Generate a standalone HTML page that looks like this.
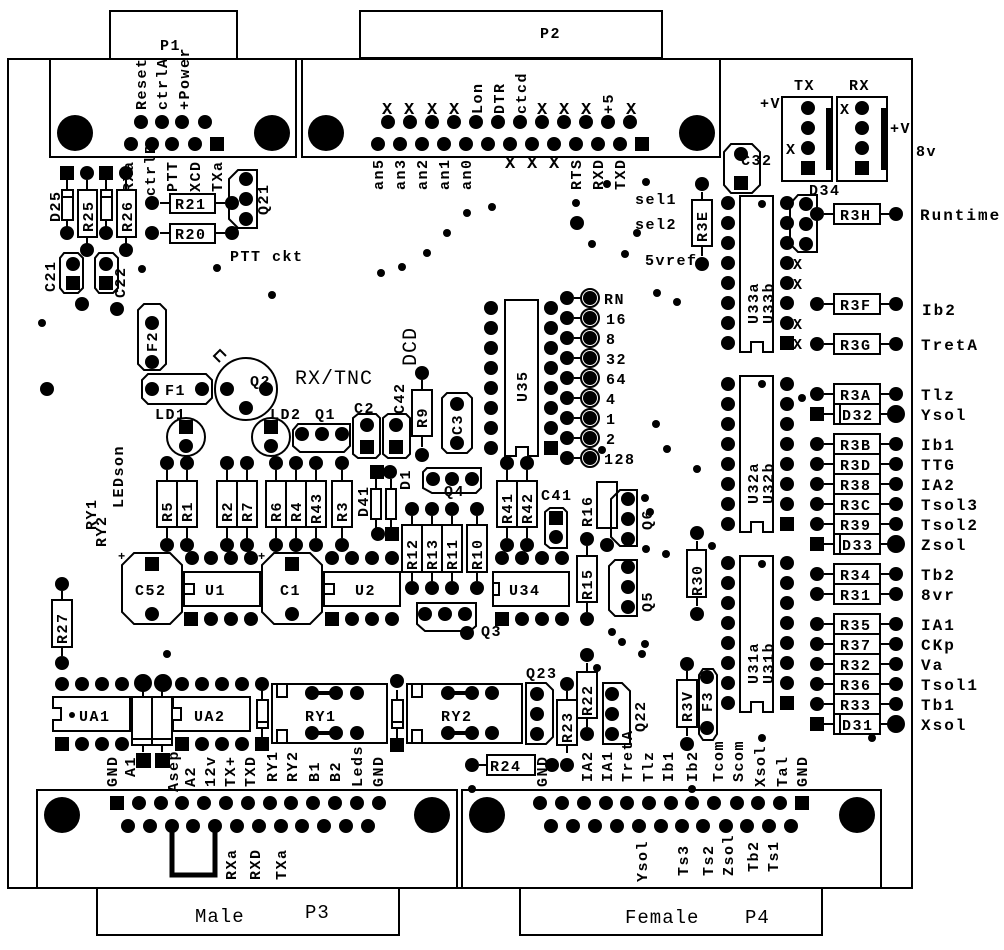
<!DOCTYPE html>
<html><head><meta charset="utf-8"><style>
html,body{margin:0;padding:0;background:#fff}
svg{display:block}
text{font-family:"Liberation Mono",monospace;font-weight:bold;font-size:15px;letter-spacing:1.5px;fill:#000}
.n{font-weight:normal;letter-spacing:1px}
.r{font-size:16px;letter-spacing:2px}
</style></head><body>
<svg width="1004" height="950" viewBox="0 0 1004 950" xmlns="http://www.w3.org/2000/svg">
<defs>
<circle id="p" r="7" fill="#000"/>
<rect id="s" x="-7" y="-7" width="14" height="14" fill="#000"/>
<circle id="d" r="4" fill="#000"/>
</defs>
<g fill="none" stroke="#000" stroke-width="2">
<rect x="8" y="59" width="904" height="829"/>
<rect x="110" y="11" width="127" height="48" fill="#fff"/>
<rect x="50" y="59" width="246" height="98" fill="#fff"/>
<rect x="360" y="11" width="302" height="47" fill="#fff"/>
<rect x="302" y="59" width="418" height="98" fill="#fff"/>
<rect x="37" y="790" width="420" height="98" fill="#fff"/>
<rect x="97" y="888" width="302" height="47" fill="#fff"/>
<rect x="462" y="790" width="419" height="98" fill="#fff"/>
<rect x="520" y="888" width="302" height="47" fill="#fff"/>
</g>
<g fill="#000">
<circle cx="75" cy="133" r="18"/><circle cx="272" cy="133" r="18"/>
<circle cx="326" cy="133" r="18"/><circle cx="697" cy="133" r="18"/>
<circle cx="62" cy="815" r="18"/><circle cx="432" cy="815" r="18"/>
<circle cx="487" cy="815" r="18"/><circle cx="857" cy="815" r="18"/>
</g>
<use href="#p" x="141" y="122"/><use href="#p" x="162" y="122"/><use href="#p" x="182" y="122"/><use href="#p" x="205" y="122"/>
<use href="#p" x="131" y="144"/><use href="#p" x="152" y="144"/><use href="#p" x="172" y="144"/><use href="#p" x="195" y="144"/><use href="#s" x="217" y="144"/>
<text x="160" y="50">P1</text>
<text transform="translate(146,110) rotate(-90)">Reset</text>
<text transform="translate(167,110) rotate(-90)">ctrlA</text>
<text transform="translate(189,110) rotate(-90)">+Power</text>
<g>
<use href="#p" x="388" y="122"/><use href="#p" x="410" y="122"/><use href="#p" x="432" y="122"/><use href="#p" x="454" y="122"/><use href="#p" x="476" y="122"/><use href="#p" x="498" y="122"/><use href="#p" x="520" y="122"/><use href="#p" x="542" y="122"/><use href="#p" x="564" y="122"/><use href="#p" x="586" y="122"/><use href="#p" x="608" y="122"/><use href="#p" x="630" y="122"/>
<use href="#p" x="378" y="144"/><use href="#p" x="400" y="144"/><use href="#p" x="422" y="144"/><use href="#p" x="444" y="144"/><use href="#p" x="466" y="144"/><use href="#p" x="488" y="144"/><use href="#p" x="510" y="144"/><use href="#p" x="532" y="144"/><use href="#p" x="554" y="144"/><use href="#p" x="576" y="144"/><use href="#p" x="598" y="144"/><use href="#p" x="620" y="144"/><use href="#s" x="642" y="144"/>
</g>
<text x="540" y="38">P2</text>
<g>
<text x="382" y="114" style="font-size:17px">X</text><text x="404" y="114" style="font-size:17px">X</text><text x="427" y="114" style="font-size:17px">X</text><text x="449" y="114" style="font-size:17px">X</text>
<text transform="translate(482,114) rotate(-90)">Lon</text>
<text transform="translate(504,114) rotate(-90)">DTR</text>
<text transform="translate(526,114) rotate(-90)">ctcd</text>
<text x="537" y="114" style="font-size:17px">X</text><text x="559" y="114" style="font-size:17px">X</text><text x="581" y="114" style="font-size:17px">X</text>
<text transform="translate(613,114) rotate(-90)">+5</text>
<text x="626" y="114" style="font-size:17px">X</text>
<text transform="translate(383,190) rotate(-90)">an5</text>
<text transform="translate(405,190) rotate(-90)">an3</text>
<text transform="translate(427,190) rotate(-90)">an2</text>
<text transform="translate(449,190) rotate(-90)">an1</text>
<text transform="translate(471,190) rotate(-90)">an0</text>
<text x="505" y="168" style="font-size:17px">X</text><text x="527" y="168" style="font-size:17px">X</text><text x="549" y="168" style="font-size:17px">X</text>
<text transform="translate(581,190) rotate(-90)">RTS</text>
<text transform="translate(603,190) rotate(-90)">RXD</text>
<text transform="translate(625,190) rotate(-90)">TXD</text>
</g>
<g fill="none" stroke="#000" stroke-width="2">
<rect x="62" y="190" width="11" height="30"/><line x1="62" y1="197" x2="73" y2="197"/>
<line x1="67" y1="180" x2="67" y2="190"/><line x1="67" y1="220" x2="67" y2="228"/>
<rect x="78" y="190" width="19" height="47"/><line x1="87" y1="180" x2="87" y2="190"/><line x1="87" y1="237" x2="87" y2="245"/>
<rect x="101" y="190" width="11" height="30"/><line x1="101" y1="197" x2="112" y2="197"/>
<line x1="106" y1="180" x2="106" y2="190"/><line x1="106" y1="220" x2="106" y2="228"/>
<rect x="117" y="190" width="19" height="47"/><line x1="126" y1="180" x2="126" y2="190"/><line x1="126" y1="237" x2="126" y2="245"/>
<rect x="170" y="194" width="45" height="19"/><line x1="160" y1="203" x2="170" y2="203"/><line x1="215" y1="203" x2="225" y2="203"/>
<rect x="170" y="224" width="45" height="19"/><line x1="160" y1="233" x2="170" y2="233"/><line x1="215" y1="233" x2="225" y2="233"/>
<path d="M238 170 H257 V228 H238 L229 219 V179 Z"/>
<path d="M64 253 H78 L83 258 V288 L78 293 H64 L60 288 V258 Z"/>
<path d="M99 253 H113 L118 258 V288 L113 293 H99 L95 288 V258 Z"/>
<path d="M144 304 H160 L166 310 V364 L160 370 H144 L138 364 V310 Z"/>
<path d="M148 374 H206 L212 380 V398 L206 404 H148 L142 398 V380 Z"/>
<circle cx="246" cy="389" r="31"/>
<path d="M220 362 L214 356 L220 350 L226 356"/>
<circle cx="186" cy="437" r="19"/><circle cx="271" cy="437" r="19"/>
<path d="M298 424 H350 V446 L344 452 H300 L293 446 V430 Z"/>
<path d="M358 414 H376 L380 418 V454 L376 458 H358 L353 454 V418 Z"/>
<path d="M388 414 H406 L410 418 V454 L406 458 H388 L383 454 V418 Z"/>
<rect x="412" y="390" width="20" height="46"/><line x1="422" y1="380" x2="422" y2="390"/><line x1="422" y1="436" x2="422" y2="447"/>
<path d="M447 393 H467 L472 398 V448 L467 453 H447 L442 448 V398 Z"/>
</g>
<use href="#s" x="67" y="173"/><use href="#p" x="87" y="173"/><use href="#s" x="106" y="173"/><use href="#p" x="126" y="173"/>
<use href="#p" x="67" y="233"/><use href="#p" x="87" y="250"/><use href="#p" x="106" y="233"/><use href="#p" x="126" y="250"/>
<use href="#p" x="152" y="203"/><use href="#p" x="232" y="203"/><use href="#p" x="152" y="233"/><use href="#p" x="232" y="233"/>
<use href="#p" x="246" y="179"/><use href="#p" x="246" y="199"/><use href="#p" x="246" y="219"/>
<use href="#p" x="73" y="264"/><use href="#s" x="73" y="283"/><use href="#p" x="106" y="264"/><use href="#s" x="106" y="283"/>
<use href="#p" x="82" y="304"/><use href="#p" x="117" y="309"/>
<use href="#p" x="152" y="323"/><use href="#p" x="152" y="362"/><use href="#p" x="152" y="389"/><use href="#p" x="202" y="389"/>
<use href="#p" x="227" y="389"/><use href="#p" x="266" y="389"/><use href="#p" x="246" y="408"/>
<use href="#s" x="186" y="427"/><use href="#p" x="186" y="446"/><use href="#s" x="271" y="427"/><use href="#p" x="271" y="446"/>
<use href="#p" x="302" y="434"/><use href="#p" x="322" y="434"/><use href="#p" x="342" y="434"/>
<use href="#p" x="367" y="425"/><use href="#s" x="367" y="447"/><use href="#p" x="396" y="425"/><use href="#s" x="396" y="447"/>
<use href="#p" x="422" y="373"/><use href="#p" x="422" y="455"/>
<use href="#p" x="457" y="404"/><use href="#p" x="457" y="443"/>
<use href="#p" x="47" y="389"/>
<text transform="translate(60,222) rotate(-90)">D25</text>
<text transform="translate(93,232) rotate(-90)">R25</text>
<text transform="translate(132,232) rotate(-90)">R26</text>
<text transform="translate(133,192) rotate(-90)">RXa</text>
<text transform="translate(155,196) rotate(-90)">ctrlB</text>
<text transform="translate(177,192) rotate(-90)">PTT</text>
<text transform="translate(200,192) rotate(-90)">XCD</text>
<text transform="translate(222,192) rotate(-90)">TXa</text>
<text x="175" y="209">R21</text><text x="175" y="239">R20</text>
<text transform="translate(268,215) rotate(-90)">Q21</text>
<text x="230" y="261">PTT ckt</text>
<text transform="translate(55,292) rotate(-90)">C21</text>
<text transform="translate(125,298) rotate(-90)">C22</text>
<text transform="translate(157,352) rotate(-90)">F2</text>
<text x="165" y="395">F1</text>
<text x="250" y="386">Q2</text>
<text x="295" y="384" class="n" style="font-size:20px">RX/TNC</text>
<text transform="translate(416,366) rotate(-90)" class="n" style="font-size:20px">DCD</text>
<text x="155" y="419">LD1</text><text x="270" y="419">LD2</text><text x="315" y="419">Q1</text>
<text x="354" y="413">C2</text>
<text transform="translate(404,414) rotate(-90)">C42</text>
<text transform="translate(427,428) rotate(-90)">R9</text>
<text transform="translate(462,435) rotate(-90)">C3</text>
<g fill="none" stroke="#000" stroke-width="2">
<path d="M505 300 H538 V456 H528 V447 H516 V456 H505 Z"/>
<line x1="574" y1="298" x2="582" y2="298"/><line x1="574" y1="318" x2="582" y2="318"/><line x1="574" y1="338" x2="582" y2="338"/><line x1="574" y1="358" x2="582" y2="358"/><line x1="574" y1="378" x2="582" y2="378"/><line x1="574" y1="398" x2="582" y2="398"/><line x1="574" y1="418" x2="582" y2="418"/><line x1="574" y1="438" x2="582" y2="438"/><line x1="574" y1="458" x2="582" y2="458"/>
<circle cx="590" cy="298" r="9"/><circle cx="590" cy="318" r="9"/><circle cx="590" cy="338" r="9"/><circle cx="590" cy="358" r="9"/><circle cx="590" cy="378" r="9"/><circle cx="590" cy="398" r="9"/><circle cx="590" cy="418" r="9"/><circle cx="590" cy="438" r="9"/><circle cx="590" cy="458" r="9"/>
</g>
<g>
<use href="#p" x="590" y="298"/><use href="#p" x="590" y="318"/><use href="#p" x="590" y="338"/><use href="#p" x="590" y="358"/><use href="#p" x="590" y="378"/><use href="#p" x="590" y="398"/><use href="#p" x="590" y="418"/><use href="#p" x="590" y="438"/><use href="#p" x="590" y="458"/>
<use href="#p" x="567" y="298"/><use href="#p" x="567" y="318"/><use href="#p" x="567" y="338"/><use href="#p" x="567" y="358"/><use href="#p" x="567" y="378"/><use href="#p" x="567" y="398"/><use href="#p" x="567" y="418"/><use href="#p" x="567" y="438"/><use href="#p" x="567" y="458"/>
<use href="#p" x="551" y="308"/><use href="#p" x="551" y="328"/><use href="#p" x="551" y="348"/><use href="#p" x="551" y="368"/><use href="#p" x="551" y="388"/><use href="#p" x="551" y="408"/><use href="#p" x="551" y="428"/><use href="#s" x="551" y="448"/>
<use href="#p" x="491" y="308"/><use href="#p" x="491" y="328"/><use href="#p" x="491" y="348"/><use href="#p" x="491" y="368"/><use href="#p" x="491" y="388"/><use href="#p" x="491" y="408"/><use href="#p" x="491" y="428"/><use href="#p" x="491" y="448"/>
</g>
<text x="604" y="304">RN</text><text x="606" y="324">16</text><text x="606" y="344">8</text><text x="606" y="364">32</text><text x="606" y="384">64</text><text x="606" y="404">4</text><text x="606" y="424">1</text><text x="606" y="444">2</text><text x="604" y="464">128</text>
<text transform="translate(527,402) rotate(-90)">U35</text>
<text x="635" y="204">sel1</text><text x="635" y="229">sel2</text><text x="645" y="265">5vref</text>
<g fill="none" stroke="#000" stroke-width="2">
<rect x="157" y="481" width="20" height="46"/><rect x="177" y="481" width="20" height="46"/>
<rect x="217" y="481" width="20" height="46"/><rect x="237" y="481" width="20" height="46"/>
<rect x="266" y="481" width="20" height="46"/><rect x="286" y="481" width="20" height="46"/><rect x="306" y="481" width="20" height="46"/>
<rect x="332" y="481" width="20" height="46"/>
<rect x="371" y="489" width="10" height="30"/><rect x="386" y="489" width="10" height="30"/>
<rect x="402" y="525" width="20" height="47"/><rect x="422" y="525" width="20" height="47"/><rect x="442" y="525" width="20" height="47"/><rect x="467" y="525" width="20" height="47"/>
<rect x="497" y="481" width="20" height="46"/><rect x="517" y="481" width="20" height="46"/>
<path d="M550 508 H563 L567 512 V548 H550 L545 544 V512 Z"/>
<path d="M597 482 H617 V528 H597 Z"/>
<path d="M620 490 H637 V546 H620 L611 537 V499 Z"/>
<rect x="577" y="556" width="20" height="46"/>
<path d="M615 560 H637 V616 H615 L609 610 V566 Z"/>
<path d="M427 468 H481 V488 L476 493 H432 L423 488 V472 Z"/>
<path d="M417 603 H476 V626 L470 631 H425 L417 624 Z"/>
<path d="M167 470V481M187 470V481M167 527V538M187 527V538M227 470V481M247 470V481M227 527V538M247 527V538M276 470V481M296 470V481M316 470V481M276 527V538M296 527V538M316 527V538M342 470V481M342 527V538M376 479V489M391 479V489M376 519V528M391 519V528M412 516V525M432 516V525M452 516V525M477 516V525M412 572V581M432 572V581M452 572V581M477 572V581M507 470V481M527 470V481M507 527V538M527 527V538M587 546V556M587 602V612"/>
</g>
<g>
<use href="#p" x="167" y="463"/><use href="#p" x="187" y="463"/><use href="#p" x="227" y="463"/><use href="#p" x="247" y="463"/><use href="#p" x="276" y="463"/><use href="#p" x="296" y="463"/><use href="#p" x="316" y="463"/><use href="#p" x="342" y="463"/>
<use href="#p" x="167" y="545"/><use href="#p" x="187" y="545"/><use href="#p" x="227" y="545"/><use href="#p" x="247" y="545"/><use href="#p" x="276" y="545"/><use href="#p" x="296" y="545"/><use href="#p" x="316" y="545"/><use href="#p" x="342" y="545"/>
<use href="#s" x="377" y="472"/><use href="#p" x="390" y="472"/><use href="#p" x="378" y="534"/><use href="#s" x="392" y="534"/>
<use href="#p" x="412" y="509"/><use href="#p" x="432" y="509"/><use href="#p" x="452" y="509"/><use href="#p" x="477" y="509"/>
<use href="#p" x="412" y="588"/><use href="#p" x="432" y="588"/><use href="#p" x="452" y="588"/><use href="#p" x="477" y="588"/>
<use href="#p" x="507" y="463"/><use href="#p" x="527" y="463"/><use href="#p" x="507" y="545"/><use href="#p" x="527" y="545"/>
<use href="#s" x="556" y="518"/><use href="#p" x="556" y="537"/>
<use href="#p" x="587" y="539"/><use href="#p" x="587" y="619"/><use href="#p" x="607" y="545"/>
<use href="#p" x="628" y="499"/><use href="#p" x="628" y="519"/><use href="#p" x="628" y="539"/>
<use href="#p" x="628" y="567"/><use href="#p" x="628" y="587"/><use href="#p" x="628" y="607"/>
<use href="#p" x="433" y="479"/><use href="#p" x="452" y="479"/><use href="#p" x="472" y="479"/>
<use href="#p" x="425" y="614"/><use href="#p" x="445" y="614"/><use href="#p" x="465" y="614"/><use href="#p" x="467" y="633"/>
</g>
<g>
<text transform="translate(172,522) rotate(-90)">R5</text><text transform="translate(192,522) rotate(-90)">R1</text>
<text transform="translate(232,522) rotate(-90)">R2</text><text transform="translate(252,522) rotate(-90)">R7</text>
<text transform="translate(281,522) rotate(-90)">R6</text><text transform="translate(301,522) rotate(-90)">R4</text><text transform="translate(321,524) rotate(-90)">R43</text>
<text transform="translate(347,522) rotate(-90)">R3</text>
<text transform="translate(368,517) rotate(-90)">D41</text><text transform="translate(410,490) rotate(-90)">D1</text>
<text transform="translate(417,570) rotate(-90)">R12</text><text transform="translate(437,570) rotate(-90)">R13</text><text transform="translate(457,570) rotate(-90)">R11</text><text transform="translate(482,570) rotate(-90)">R10</text>
<text transform="translate(512,524) rotate(-90)">R41</text><text transform="translate(532,524) rotate(-90)">R42</text>
<text x="541" y="500">C41</text>
<text transform="translate(592,527) rotate(-90)">R16</text>
<text transform="translate(652,530) rotate(-90)">Q6</text>
<text transform="translate(592,600) rotate(-90)">R15</text>
<text transform="translate(652,612) rotate(-90)">Q5</text>
<text x="444" y="496">Q4</text><text x="481" y="636">Q3</text>
<text transform="translate(96,530) rotate(-90)">RY1</text>
<text transform="translate(106,547) rotate(-90)">RY2</text>
<text transform="translate(123,508) rotate(-90)">LEDson</text>
</g>
<g fill="none" stroke="#000" stroke-width="2">
<path d="M134 553 H170 L182 565 V612 L170 624 H134 L122 612 V565 Z"/>
<path d="M274 553 H310 L322 565 V612 L310 624 H274 L262 612 V565 Z"/>
<rect x="184" y="572" width="76" height="34"/><rect x="184" y="584" width="10" height="10"/>
<rect x="324" y="572" width="76" height="34"/><rect x="324" y="584" width="10" height="10"/>
<rect x="493" y="572" width="76" height="34"/><path d="M493 583 H499 V595 H493"/>
</g>
<use href="#s" x="152" y="564"/><use href="#p" x="152" y="614"/><use href="#s" x="292" y="564"/><use href="#p" x="292" y="614"/>
<g>
<use href="#p" x="192" y="558"/><use href="#p" x="211" y="558"/><use href="#p" x="231" y="558"/><use href="#p" x="251" y="558"/>
<use href="#s" x="191" y="619"/><use href="#p" x="211" y="619"/><use href="#p" x="231" y="619"/><use href="#p" x="251" y="619"/>
<use href="#p" x="332" y="558"/><use href="#p" x="352" y="558"/><use href="#p" x="372" y="558"/><use href="#p" x="392" y="558"/>
<use href="#s" x="332" y="619"/><use href="#p" x="352" y="619"/><use href="#p" x="372" y="619"/><use href="#p" x="392" y="619"/>
<use href="#p" x="502" y="558"/><use href="#p" x="522" y="558"/><use href="#p" x="542" y="558"/><use href="#p" x="562" y="558"/>
<use href="#s" x="502" y="619"/><use href="#p" x="522" y="619"/><use href="#p" x="542" y="619"/><use href="#p" x="562" y="619"/>
</g>
<text x="135" y="595">C52</text><text x="205" y="595">U1</text><text x="280" y="595">C1</text><text x="355" y="595">U2</text><text x="509" y="595">U34</text>
<text x="118" y="560" style="font-size:12px">+</text><text x="258" y="560" style="font-size:12px">+</text>
<g fill="none" stroke="#000" stroke-width="2"><rect x="52" y="600" width="20" height="47"/><path d="M62 591V600M62 647V656"/></g>
<use href="#p" x="62" y="584"/><use href="#p" x="62" y="663"/>
<text transform="translate(67,644) rotate(-90)">R27</text>
<g fill="none" stroke="#000" stroke-width="2">
<path d="M53 697 H130 V731 H53 V720 H61 V708 H53 Z"/>
<path d="M173 697 H250 V731 H173 V720 H181 V708 H173 Z"/>
<rect x="132" y="697" width="20" height="48"/><rect x="152" y="697" width="20" height="48"/><line x1="132" y1="739" x2="172" y2="739"/>
<path d="M143 690V697M162 690V697M143 745V752M162 745V752"/>
<rect x="257" y="700" width="11" height="28"/><line x1="257" y1="722" x2="268" y2="722"/><path d="M262 690V700M262 728V738"/>
<rect x="272" y="684" width="115" height="59"/>
<rect x="392" y="700" width="11" height="28"/><line x1="392" y1="722" x2="403" y2="722"/><path d="M397 690V700M397 728V738"/>
<rect x="407" y="684" width="115" height="59"/>
<path d="M277 684V697H287V684M277 743V730H287V743M412 684V697H422V684M412 743V730H422V743"/>
<path d="M312 693H336M312 733H336M448 693H472M448 733H472" stroke-width="4"/>
</g>
<g>
<use href="#p" x="62" y="684"/><use href="#p" x="82" y="684"/><use href="#p" x="102" y="684"/><use href="#p" x="122" y="684"/><circle cx="143" cy="683" r="9"/><circle cx="163" cy="683" r="9"/><use href="#p" x="182" y="684"/><use href="#p" x="202" y="684"/><use href="#p" x="222" y="684"/><use href="#p" x="242" y="684"/><use href="#p" x="262" y="684"/>
<use href="#s" x="62" y="744"/><use href="#p" x="82" y="744"/><use href="#p" x="102" y="744"/><use href="#p" x="122" y="744"/><use href="#s" x="182" y="744"/><use href="#p" x="202" y="744"/><use href="#p" x="222" y="744"/><use href="#p" x="242" y="744"/><use href="#s" x="262" y="744"/>
<rect x="136" y="753" width="15" height="15"/><rect x="155" y="753" width="15" height="15"/>
<use href="#p" x="312" y="693"/><use href="#p" x="336" y="693"/><use href="#p" x="357" y="693"/><use href="#p" x="312" y="733"/><use href="#p" x="336" y="733"/><use href="#p" x="357" y="733"/>
<use href="#p" x="448" y="693"/><use href="#p" x="472" y="693"/><use href="#p" x="492" y="693"/><use href="#p" x="448" y="733"/><use href="#p" x="472" y="733"/><use href="#p" x="492" y="733"/>
<use href="#p" x="397" y="681"/><use href="#s" x="397" y="745"/>
<circle cx="72" cy="715" r="3"/><use href="#d" x="167" y="654"/>
</g>
<text x="79" y="721">UA1</text><text x="194" y="721">UA2</text><text x="305" y="721">RY1</text><text x="441" y="721">RY2</text>
<g>
<text transform="translate(117,787) rotate(-90)">GND</text><text transform="translate(135,777) rotate(-90)">A1</text>
<text transform="translate(178,792) rotate(-90)">Asep</text><text transform="translate(195,787) rotate(-90)">A2</text>
<text transform="translate(215,787) rotate(-90)">12v</text><text transform="translate(235,787) rotate(-90)">TX+</text>
<text transform="translate(255,787) rotate(-90)">TXD</text><text transform="translate(277,782) rotate(-90)">RY1</text>
<text transform="translate(297,782) rotate(-90)">RY2</text><text transform="translate(319,782) rotate(-90)">B1</text>
<text transform="translate(340,782) rotate(-90)">B2</text><text transform="translate(362,787) rotate(-90)">Leds</text>
<text transform="translate(383,787) rotate(-90)">GND</text>
</g>
<g>
<use href="#s" x="117" y="803"/><use href="#p" x="139" y="803"/><use href="#p" x="161" y="803"/><use href="#p" x="182" y="803"/><use href="#p" x="204" y="803"/><use href="#p" x="226" y="803"/><use href="#p" x="248" y="803"/><use href="#p" x="270" y="803"/><use href="#p" x="291" y="803"/><use href="#p" x="313" y="803"/><use href="#p" x="335" y="803"/><use href="#p" x="357" y="803"/><use href="#p" x="379" y="803"/>
<use href="#p" x="128" y="826"/><use href="#p" x="150" y="826"/><use href="#p" x="172" y="826"/><use href="#p" x="193" y="826"/><use href="#p" x="215" y="826"/><use href="#p" x="237" y="826"/><use href="#p" x="259" y="826"/><use href="#p" x="281" y="826"/><use href="#p" x="302" y="826"/><use href="#p" x="324" y="826"/><use href="#p" x="346" y="826"/><use href="#p" x="368" y="826"/>
</g>
<path d="M172 826V875H215V826" fill="none" stroke="#000" stroke-width="5"/>
<text transform="translate(236,880) rotate(-90)">RXa</text><text transform="translate(260,880) rotate(-90)">RXD</text><text transform="translate(286,880) rotate(-90)">TXa</text>
<text x="195" y="922" class="n" style="font-size:19px">Male</text><text x="305" y="918" class="n" style="font-size:19px">P3</text>
<g fill="none" stroke="#000" stroke-width="2">
<path d="M526 683 H546 L553 690 V737 L546 744 H526 Z"/>
<rect x="557" y="700" width="20" height="45"/><path d="M567 691V700M567 745V753"/>
<rect x="577" y="672" width="20" height="46"/><path d="M587 663V672M587 718V727"/>
<path d="M603 683 H622 L630 691 V744 H603 Z"/>
<rect x="487" y="755" width="48" height="20"/><path d="M479 765H487"/>
<rect x="677" y="680" width="20" height="47"/><path d="M687 671V680M687 727V736"/>
<path d="M703 669 H713 L717 675 V734 L713 740 H703 L699 734 V675 Z"/>
<rect x="687" y="550" width="19" height="47"/><path d="M697 541V550M697 597V606"/>
<rect x="692" y="200" width="20" height="46"/><path d="M702 192V200M702 246V256"/>
</g>
<g>
<use href="#p" x="537" y="694"/><use href="#p" x="537" y="714"/><use href="#p" x="537" y="734"/>
<use href="#p" x="567" y="684"/><use href="#p" x="567" y="765"/><use href="#p" x="587" y="655"/><use href="#p" x="587" y="734"/>
<use href="#p" x="612" y="694"/><use href="#p" x="612" y="714"/><use href="#p" x="612" y="734"/>
<use href="#p" x="472" y="765"/><use href="#p" x="552" y="765"/>
<use href="#p" x="687" y="664"/><use href="#p" x="687" y="744"/><use href="#p" x="707" y="677"/><use href="#p" x="707" y="728"/>
<use href="#p" x="697" y="533"/><use href="#p" x="697" y="614"/>
<use href="#p" x="702" y="184"/><use href="#p" x="702" y="264"/>
</g>
<text x="526" y="678">Q23</text>
<text transform="translate(572,743) rotate(-90)">R23</text><text transform="translate(592,716) rotate(-90)">R22</text>
<text transform="translate(645,732) rotate(-90)">Q22</text>
<text x="490" y="771">R24</text>
<text transform="translate(692,722) rotate(-90)">R3V</text><text transform="translate(712,712) rotate(-90)">F3</text>
<text transform="translate(702,596) rotate(-90)">R30</text><text transform="translate(707,242) rotate(-90)">R3E</text>
<g>
<text transform="translate(547,787) rotate(-90)">GND</text><text transform="translate(592,782) rotate(-90)">IA2</text>
<text transform="translate(612,782) rotate(-90)">IA1</text><text transform="translate(632,782) rotate(-90)">TretA</text>
<text transform="translate(653,782) rotate(-90)">Tlz</text><text transform="translate(673,782) rotate(-90)">Ib1</text>
<text transform="translate(697,782) rotate(-90)">Ib2</text><text transform="translate(723,782) rotate(-90)">Tcom</text>
<text transform="translate(743,782) rotate(-90)">Scom</text><text transform="translate(765,787) rotate(-90)">Xsol</text>
<text transform="translate(787,787) rotate(-90)">Tal</text><text transform="translate(807,787) rotate(-90)">GND</text>
</g>
<g>
<use href="#p" x="540" y="803"/><use href="#p" x="562" y="803"/><use href="#p" x="584" y="803"/><use href="#p" x="606" y="803"/><use href="#p" x="627" y="803"/><use href="#p" x="649" y="803"/><use href="#p" x="671" y="803"/><use href="#p" x="692" y="803"/><use href="#p" x="714" y="803"/><use href="#p" x="737" y="803"/><use href="#p" x="758" y="803"/><use href="#p" x="780" y="803"/><use href="#s" x="802" y="803"/>
<use href="#p" x="551" y="826"/><use href="#p" x="573" y="826"/><use href="#p" x="595" y="826"/><use href="#p" x="617" y="826"/><use href="#p" x="639" y="826"/><use href="#p" x="661" y="826"/><use href="#p" x="682" y="826"/><use href="#p" x="703" y="826"/><use href="#p" x="726" y="826"/><use href="#p" x="747" y="826"/><use href="#p" x="769" y="826"/><use href="#p" x="791" y="826"/>
</g>
<text transform="translate(647,882) rotate(-90)">Ysol</text><text transform="translate(688,876) rotate(-90)">Ts3</text>
<text transform="translate(713,876) rotate(-90)">Ts2</text><text transform="translate(733,876) rotate(-90)">Zsol</text>
<text transform="translate(758,872) rotate(-90)">Tb2</text><text transform="translate(778,872) rotate(-90)">Ts1</text>
<text x="625" y="923" class="n" style="font-size:19px">Female</text><text x="745" y="923" class="n" style="font-size:19px">P4</text>
<g fill="none" stroke="#000" stroke-width="2">
<rect x="782" y="97" width="50" height="84"/><rect x="837" y="97" width="50" height="84"/>
<path d="M731 144 H752 L760 152 V185 L752 193 H731 L724 185 V152 Z"/>
<path d="M798 195 H817 V252 H798 L790 244 V204 Z"/>
</g>
<rect x="826" y="108" width="5" height="62" fill="#000"/><rect x="881" y="108" width="5" height="62" fill="#000"/>
<use href="#p" x="808" y="108"/><use href="#p" x="808" y="128"/><use href="#p" x="808" y="148"/><use href="#s" x="808" y="168"/>
<use href="#p" x="862" y="108"/><use href="#p" x="862" y="128"/><use href="#p" x="862" y="148"/><use href="#s" x="862" y="168"/>
<use href="#p" x="741" y="154"/><use href="#s" x="741" y="183"/>
<use href="#p" x="806" y="204"/><use href="#p" x="806" y="224"/><use href="#p" x="806" y="244"/>
<text x="794" y="90">TX</text><text x="849" y="90">RX</text>
<text x="760" y="108">+V</text><text x="890" y="133">+V</text><text x="916" y="156">8v</text>
<text x="786" y="154">X</text><text x="840" y="114">X</text>
<text x="741" y="165">C32</text><text x="809" y="195">D34</text>
<g fill="none" stroke="#000" stroke-width="2">
<path d="M740 196 H773 V352 H763 V342 H751 V352 H740 Z"/>
<path d="M740 376 H773 V532 H763 V522 H751 V532 H740 Z"/>
<path d="M740 556 H773 V712 H763 V702 H751 V712 H740 Z"/>
</g>
<g>
<use href="#p" x="728" y="203"/><use href="#p" x="728" y="223"/><use href="#p" x="728" y="243"/><use href="#p" x="728" y="263"/><use href="#p" x="728" y="283"/><use href="#p" x="728" y="303"/><use href="#p" x="728" y="323"/><use href="#p" x="728" y="343"/>
<use href="#p" x="787" y="203"/><use href="#p" x="787" y="223"/><use href="#p" x="787" y="243"/><use href="#p" x="787" y="263"/><use href="#p" x="787" y="283"/><use href="#p" x="787" y="303"/><use href="#p" x="787" y="323"/><use href="#s" x="787" y="343"/>
<use href="#p" x="728" y="384"/><use href="#p" x="728" y="404"/><use href="#p" x="728" y="424"/><use href="#p" x="728" y="444"/><use href="#p" x="728" y="464"/><use href="#p" x="728" y="484"/><use href="#p" x="728" y="504"/><use href="#p" x="728" y="524"/>
<use href="#p" x="787" y="384"/><use href="#p" x="787" y="404"/><use href="#p" x="787" y="424"/><use href="#p" x="787" y="444"/><use href="#p" x="787" y="464"/><use href="#p" x="787" y="484"/><use href="#p" x="787" y="504"/><use href="#s" x="787" y="524"/>
<use href="#p" x="728" y="563"/><use href="#p" x="728" y="583"/><use href="#p" x="728" y="603"/><use href="#p" x="728" y="623"/><use href="#p" x="728" y="643"/><use href="#p" x="728" y="663"/><use href="#p" x="728" y="683"/><use href="#p" x="728" y="703"/>
<use href="#p" x="787" y="563"/><use href="#p" x="787" y="583"/><use href="#p" x="787" y="603"/><use href="#p" x="787" y="623"/><use href="#p" x="787" y="643"/><use href="#p" x="787" y="663"/><use href="#p" x="787" y="683"/><use href="#s" x="787" y="703"/>
<use href="#d" x="762" y="204"/><use href="#d" x="762" y="384"/><use href="#d" x="762" y="564"/>
</g>
<text x="793" y="269">X</text><text x="793" y="289">X</text><text x="793" y="329">X</text><text x="793" y="349">X</text>
<text transform="translate(758,324) rotate(-90)">U33a</text><text transform="translate(773,324) rotate(-90)">U33b</text>
<text transform="translate(758,504) rotate(-90)">U32a</text><text transform="translate(773,504) rotate(-90)">U32b</text>
<text transform="translate(758,684) rotate(-90)">U31a</text><text transform="translate(773,684) rotate(-90)">U31b</text>
<g fill="none" stroke="#000" stroke-width="2">
<rect x="834" y="204" width="46" height="20"/><rect x="834" y="294" width="46" height="20"/><rect x="834" y="334" width="46" height="20"/>
<rect x="834" y="384" width="46" height="20"/><rect x="834" y="404" width="46" height="20"/>
<rect x="834" y="434" width="46" height="20"/><rect x="834" y="454" width="46" height="20"/><rect x="834" y="474" width="46" height="20"/><rect x="834" y="494" width="46" height="20"/><rect x="834" y="514" width="46" height="20"/><rect x="834" y="534" width="46" height="20"/>
<rect x="834" y="564" width="46" height="20"/><rect x="834" y="584" width="46" height="20"/>
<rect x="834" y="614" width="46" height="20"/><rect x="834" y="634" width="46" height="20"/><rect x="834" y="654" width="46" height="20"/><rect x="834" y="674" width="46" height="20"/><rect x="834" y="694" width="46" height="20"/><rect x="834" y="714" width="46" height="20"/>
<path d="M840 404V424M840 534V554M840 714V734"/>
<path d="M824 214H834M880 214H890M824 304H834M880 304H890M824 344H834M880 344H890M824 394H834M880 394H890M824 414H834M880 414H890M824 444H834M880 444H890M824 464H834M880 464H890M824 484H834M880 484H890M824 504H834M880 504H890M824 524H834M880 524H890M824 544H834M880 544H890M824 574H834M880 574H890M824 594H834M880 594H890M824 624H834M880 624H890M824 644H834M880 644H890M824 664H834M880 664H890M824 684H834M880 684H890M824 704H834M880 704H890M824 724H834M880 724H890"/>
</g>
<g>
<use href="#p" x="817" y="214"/><use href="#p" x="896" y="214"/><use href="#p" x="817" y="304"/><use href="#p" x="896" y="304"/><use href="#p" x="817" y="344"/><use href="#p" x="896" y="344"/>
<use href="#p" x="817" y="394"/><use href="#p" x="896" y="394"/><use href="#s" x="817" y="414"/><circle cx="896" cy="414" r="9"/>
<use href="#p" x="817" y="444"/><use href="#p" x="896" y="444"/><use href="#p" x="817" y="464"/><use href="#p" x="896" y="464"/><use href="#p" x="817" y="484"/><use href="#p" x="896" y="484"/><use href="#p" x="817" y="504"/><use href="#p" x="896" y="504"/><use href="#p" x="817" y="524"/><use href="#p" x="896" y="524"/><use href="#s" x="817" y="544"/><circle cx="896" cy="544" r="9"/>
<use href="#p" x="817" y="574"/><use href="#p" x="896" y="574"/><use href="#p" x="817" y="594"/><use href="#p" x="896" y="594"/>
<use href="#p" x="817" y="624"/><use href="#p" x="896" y="624"/><use href="#p" x="817" y="644"/><use href="#p" x="896" y="644"/><use href="#p" x="817" y="664"/><use href="#p" x="896" y="664"/><use href="#p" x="817" y="684"/><use href="#p" x="896" y="684"/><use href="#p" x="817" y="704"/><use href="#p" x="896" y="704"/><use href="#s" x="817" y="724"/><circle cx="896" cy="724" r="9"/>
</g>
<g>
<text x="840" y="220">R3H</text><text x="840" y="310">R3F</text><text x="840" y="350">R3G</text>
<text x="840" y="400">R3A</text><text x="842" y="420">D32</text><text x="840" y="450">R3B</text><text x="840" y="470">R3D</text><text x="840" y="490">R38</text><text x="840" y="510">R3C</text><text x="840" y="530">R39</text><text x="842" y="550">D33</text>
<text x="840" y="580">R34</text><text x="840" y="600">R31</text><text x="840" y="630">R35</text><text x="840" y="650">R37</text><text x="840" y="670">R32</text><text x="840" y="690">R36</text><text x="840" y="710">R33</text><text x="842" y="730">D31</text>
</g>
<g class="r">
<text class="r" x="920" y="220">Runtime</text><text class="r" x="922" y="315">Ib2</text><text class="r" x="921" y="350">TretA</text>
<text class="r" x="921" y="400">Tlz</text><text class="r" x="921" y="420">Ysol</text><text class="r" x="921" y="450">Ib1</text><text class="r" x="921" y="470">TTG</text><text class="r" x="921" y="490">IA2</text><text class="r" x="921" y="510">Tsol3</text><text class="r" x="921" y="530">Tsol2</text><text class="r" x="921" y="550">Zsol</text>
<text class="r" x="921" y="580">Tb2</text><text class="r" x="921" y="600">8vr</text><text class="r" x="921" y="630">IA1</text><text class="r" x="921" y="650">CKp</text><text class="r" x="921" y="670">Va</text><text class="r" x="921" y="690">Tsol1</text><text class="r" x="921" y="710">Tb1</text><text class="r" x="921" y="730">Xsol</text>
</g>
<g>
<use href="#d" x="492" y="207"/><use href="#d" x="467" y="213"/><use href="#d" x="447" y="233"/><use href="#d" x="427" y="253"/><use href="#d" x="402" y="267"/><use href="#d" x="381" y="273"/><use href="#d" x="272" y="295"/><use href="#d" x="217" y="268"/><use href="#d" x="142" y="269"/><use href="#d" x="42" y="323"/><use href="#d" x="117" y="308"/>
<use href="#d" x="576" y="203"/><use href="#p" x="577" y="223"/><use href="#d" x="592" y="244"/><use href="#d" x="625" y="254"/><use href="#d" x="657" y="293"/><use href="#d" x="677" y="302"/><use href="#d" x="646" y="182"/><use href="#d" x="607" y="184"/><use href="#d" x="637" y="233"/>
<use href="#d" x="656" y="424"/><use href="#d" x="667" y="449"/><use href="#d" x="697" y="469"/><use href="#d" x="645" y="498"/><use href="#d" x="650" y="512"/><use href="#d" x="646" y="549"/><use href="#d" x="712" y="546"/><use href="#d" x="666" y="554"/>
<use href="#d" x="612" y="632"/><use href="#d" x="622" y="642"/><use href="#d" x="645" y="644"/><use href="#d" x="642" y="654"/><use href="#d" x="597" y="668"/><use href="#d" x="872" y="738"/><use href="#d" x="692" y="789"/><use href="#d" x="762" y="738"/><use href="#d" x="472" y="789"/><use href="#d" x="602" y="450"/><use href="#d" x="802" y="398"/>
</g>
</svg>
</body></html>
